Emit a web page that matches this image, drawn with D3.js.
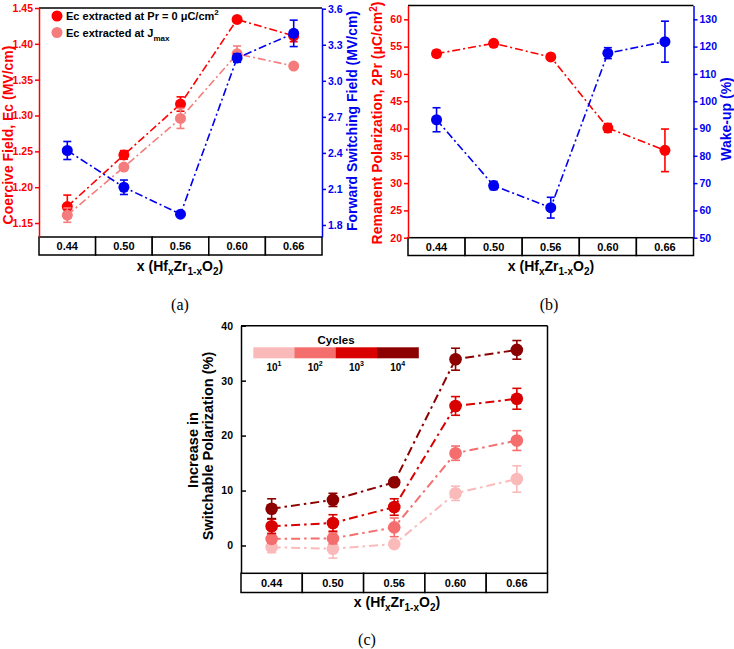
<!DOCTYPE html>
<html>
<head>
<meta charset="utf-8">
<script src="https://cdn.jsdelivr.net/npm/d3@7"></script>
<style>
  body { margin: 0; background: #fff; }
  svg text { font-family: "Liberation Sans", Arial, sans-serif; font-weight: bold; }
  svg text.caption { font-family: "Liberation Serif", "DejaVu Serif", serif; font-weight: normal; }
</style>
</head>
<body>
<svg id="fig" width="734" height="649"></svg>
<script>
// x categories shared by all three panels
const compositions = ["0.44", "0.50", "0.56", "0.60", "0.66"];

// (a) coercive field and forward switching field
const ecPr0 = [1.173, 1.245, 1.316, 1.434, 1.411];
const ecPr0Err = [0.016, 0.006, 0.010, 0, 0.008];
const ecJmax = [1.161, 1.228, 1.296, 1.386, 1.369];
const ecJmaxErr = [0.010, 0, 0.014, 0.011, 0];
const fwdField = [2.42, 2.114, 1.89, 3.19, 3.395];
const fwdFieldErr = [0.075, 0.06, 0.01, 0.036, 0.11];
const ecTicks = [1.15, 1.20, 1.25, 1.30, 1.35, 1.40, 1.45];
const fwdTicks = [1.8, 2.1, 2.4, 2.7, 3.0, 3.3, 3.6];

// (b) remanent polarization and wake-up
const pr2 = [53.7, 55.6, 53.1, 40.1, 36.0];
const pr2Err = [0.6, 0, 0, 0.8, 3.9];
const wakeUp = [93.2, 69.1, 61.0, 117.6, 121.8];
const wakeUpErr = [4.4, 1.5, 3.8, 2.0, 7.5];
const prTicks = [20, 25, 30, 35, 40, 45, 50, 55, 60];
const wakeTicks = [50, 60, 70, 80, 90, 100, 110, 120, 130];

// (c) increase in switchable polarization per cycle count
const cycleExp = ["1", "2", "3", "4"];
const inc1e1 = [-0.3, -0.6, 0.25, 9.5, 12.1];
const inc1e1Err = [1.0, 1.7, 0.5, 1.3, 2.4];
const inc1e2 = [1.2, 1.3, 3.3, 16.8, 19.1];
const inc1e2Err = [0.8, 1.0, 1.7, 1.3, 1.8];
const inc1e3 = [3.5, 4.1, 7.0, 25.4, 26.7];
const inc1e3Err = [1.3, 1.5, 1.5, 1.7, 1.9];
const inc1e4 = [6.7, 8.3, 11.5, 33.9, 35.6];
const inc1e4Err = [1.8, 1.2, 0, 2.0, 1.7];
const incTicks = [0, 10, 20, 30, 40];

const RED = "#ff0000", PINK = "#f47c7c", BLUE = "#0000f0";
const cycleColors = ["#fbbaba", "#f46e6e", "#d90000", "#8c0000"];

const svg = d3.select("#fig");

// writes text with sub/superscript parts: [[text, "sub"|"sup"|null], ...]
function rich(sel, parts, smallSize) {
  let shift = 0;
  parts.forEach(([t, kind]) => {
    const target = kind === "sub" ? 4 : kind === "sup" ? -5 : 0;
    sel.append("tspan")
      .attr("dy", target - shift)
      .attr("font-size", kind ? smallSize : null)
      .text(t);
    shift = target;
  });
}

const xTitleParts = [["x (Hf", null], ["x", "sub"], ["Zr", null], ["1-x", "sub"], ["O", null], ["2", "sub"], [")", null]];

// frame top line + table of compositions under the plot
function makePanel(o) {
  const x = d3.scaleBand().domain(compositions).range([o.x0, o.x1]);
  svg.append("line")
    .attr("x1", o.x0).attr("x2", o.x1).attr("y1", o.top).attr("y2", o.top)
    .attr("stroke", "#000").attr("stroke-width", 1.5);
  if (o.rightBlack) {
    svg.append("line")
      .attr("x1", o.x1).attr("x2", o.x1).attr("y1", o.top).attr("y2", o.bottom)
      .attr("stroke", "#000").attr("stroke-width", 1.5);
  }
  svg.append("g").selectAll("rect")
    .data(compositions)
    .join("rect")
    .attr("x", d => x(d))
    .attr("y", o.bottom)
    .attr("width", x.bandwidth())
    .attr("height", o.tableBottom - o.bottom)
    .attr("fill", "#fff")
    .attr("stroke", "#000")
    .attr("stroke-width", 1.5);
  svg.append("g").selectAll("text")
    .data(compositions)
    .join("text")
    .attr("x", d => x(d) + x.bandwidth() / 2)
    .attr("y", (o.bottom + o.tableBottom) / 2 + 4)
    .attr("text-anchor", "middle")
    .attr("font-size", 11)
    .text(d => d);
  const t = svg.append("text")
    .attr("x", o.titleX).attr("y", o.titleY)
    .attr("text-anchor", "middle")
    .attr("font-size", 14);
  rich(t, xTitleParts, 10);
  svg.append("text")
    .attr("class", "caption")
    .attr("x", o.capX).attr("y", o.capY)
    .attr("text-anchor", "middle")
    .attr("font-size", 16)
    .text(o.caption);
  return x;
}

function drawAxis(pos, scale, ticks, fmt, color, side, tick) {
  const ax = (side === "left" ? d3.axisLeft(scale) : d3.axisRight(scale))
    .tickValues(ticks)
    .tickFormat(d3.format(fmt))
    .tickSize(tick)
    .tickSizeOuter(0)
    .tickPadding(tick > 0 ? 2 : 8);
  const g = svg.append("g").attr("transform", `translate(${pos},0)`).call(ax);
  g.select(".domain").attr("stroke", color).attr("stroke-width", 1.5);
  g.selectAll(".tick line").attr("stroke", color).attr("stroke-width", 1.5);
  g.selectAll(".tick text").attr("fill", color).attr("font-size", 10.5)
    .style("font-family", '"Liberation Sans", Arial, sans-serif').style("font-weight", "bold");
  return g;
}

function yTitle(x, y, color, parts, size) {
  const t = svg.append("text")
    .attr("transform", `translate(${x},${y}) rotate(-90)`)
    .attr("text-anchor", "middle")
    .attr("fill", color)
    .attr("font-size", size);
  rich(t, parts, size - 4);
}

function drawSeries(x, y, vals, errs, color, opts) {
  const pts = compositions.map((c, i) => ({ c: c, v: vals[i], e: errs[i] }));
  const cx = d => x(d.c) + x.bandwidth() / 2;
  const g = svg.append("g");
  g.append("path")
    .datum(pts)
    .attr("fill", "none")
    .attr("stroke", color)
    .attr("stroke-width", opts.lw)
    .attr("stroke-dasharray", opts.dash)
    .attr("d", d3.line().x(cx).y(d => y(d.v)));
  const eb = g.selectAll("g.err").data(pts.filter(d => d.e > 0)).join("g").attr("class", "err")
    .attr("stroke", color).attr("stroke-width", 1.6);
  eb.append("line").attr("x1", cx).attr("x2", cx).attr("y1", d => y(d.v - d.e)).attr("y2", d => y(d.v + d.e));
  eb.append("line").attr("x1", d => cx(d) - opts.cap).attr("x2", d => cx(d) + opts.cap)
    .attr("y1", d => y(d.v + d.e)).attr("y2", d => y(d.v + d.e));
  eb.append("line").attr("x1", d => cx(d) - opts.cap).attr("x2", d => cx(d) + opts.cap)
    .attr("y1", d => y(d.v - d.e)).attr("y2", d => y(d.v - d.e));
  g.selectAll("circle").data(pts).join("circle")
    .attr("cx", cx).attr("cy", d => y(d.v)).attr("r", opts.r)
    .attr("fill", color);
}

// ---------- (a) ----------
const pa = { x0: 39, x1: 322, top: 8, bottom: 237, tableBottom: 255,
  titleX: 180, titleY: 271, capX: 180, capY: 310, caption: "(a)" };
const yEc = d3.scaleLinear().domain([1.1305, 1.45]).range([pa.bottom, pa.top]);
const yFwd = d3.scaleLinear().domain([1.70, 3.606]).range([pa.bottom, pa.top]);
const xa = makePanel(pa);
drawAxis(pa.x0, yEc, ecTicks, ".2f", RED, "left", 4);
drawAxis(pa.x1, yFwd, fwdTicks, ".1f", BLUE, "right", 4);
yTitle(12.5, 135, RED, [["Coercive Field, Ec (MV/cm)", null]], 14);
yTitle(357, 121, BLUE, [["Forward Switching Field (MV/cm)", null]], 14);
const lineA = { lw: 1.6, dash: "8,3,2,3", cap: 4, r: 5.5 };
drawSeries(xa, yEc, ecPr0, ecPr0Err, RED, lineA);
drawSeries(xa, yEc, ecJmax, ecJmaxErr, PINK, lineA);
drawSeries(xa, yFwd, fwdField, fwdFieldErr, BLUE, lineA);

// legend (a)
const legA = svg.append("g").attr("font-size", 11);
legA.append("circle").attr("cx", 57).attr("cy", 16).attr("r", 5.5).attr("fill", RED);
legA.append("circle").attr("cx", 57).attr("cy", 32.5).attr("r", 5.5).attr("fill", PINK);
rich(legA.append("text").attr("x", 66).attr("y", 20),
  [["Ec extracted at Pr = 0 \u03bcC/cm", null], ["2", "sup"]], 8);
rich(legA.append("text").attr("x", 66).attr("y", 36.5),
  [["Ec extracted at J", null], ["max", "sub"]], 8);

// ---------- (b) ----------
const pb = { x0: 408, x1: 693.5, top: 5.5, bottom: 237.7, tableBottom: 255.5,
  titleX: 551, titleY: 271, capX: 549, capY: 310, caption: "(b)" };
const yPr = d3.scaleLinear().domain([20, 62.53]).range([pb.bottom, pb.top]);
const yWake = d3.scaleLinear().domain([50, 135.05]).range([pb.bottom, pb.top]);
const xb = makePanel(pb);
drawAxis(pb.x0, yPr, prTicks, "d", RED, "left", 4);
drawAxis(pb.x1, yWake, wakeTicks, "d", BLUE, "right", 4);
yTitle(382, 123, RED, [["Remanent Polarization, 2Pr (\u03bcC/cm", null], ["2", "sup"], [")", null]], 14);
yTitle(731, 119, BLUE, [["Wake-up (%)", null]], 14);
drawSeries(xb, yPr, pr2, pr2Err, RED, lineA);
drawSeries(xb, yWake, wakeUp, wakeUpErr, BLUE, lineA);

// ---------- (c) ----------
const pc = { x0: 241, x1: 547.5, top: 325.7, bottom: 573.3, tableBottom: 592.5, rightBlack: true,
  titleX: 397, titleY: 607, capX: 367, capY: 645, caption: "(c)" };
const yInc = d3.scaleLinear().domain([-5.06, 40]).range([pc.bottom, pc.top]);
const xc = makePanel(pc);
drawAxis(pc.x0, yInc, incTicks, "d", "#000", "left", -5);
yTitle(197.5, 450, "#000", [["Increase in", null]], 14.5);
yTitle(213, 446, "#000", [["Switchable Polarization (%)", null]], 14.5);
const lineC = { lw: 2, dash: "9,4,2.5,4", cap: 4.5, r: 6.3 };
const cycleSeries = [[inc1e1, inc1e1Err], [inc1e2, inc1e2Err], [inc1e3, inc1e3Err], [inc1e4, inc1e4Err]];
cycleSeries.forEach(([v, e], i) => drawSeries(xc, yInc, v, e, cycleColors[i], lineC));

// colour bar legend (c)
const cbX = d3.scaleBand().domain(cycleExp).range([253.3, 418.3]);
const legC = svg.append("g");
legC.append("text").attr("x", 336).attr("y", 343.5).attr("text-anchor", "middle")
  .attr("font-size", 11.5).text("Cycles");
legC.selectAll("rect").data(cycleExp).join("rect")
  .attr("x", d => cbX(d)).attr("y", 347.3)
  .attr("width", cbX.bandwidth() + 0.5).attr("height", 11)
  .attr("fill", (d, i) => cycleColors[i]);
legC.selectAll("text.lab").data(cycleExp).join("text")
  .attr("class", "lab")
  .attr("x", d => cbX(d) + cbX.bandwidth() / 2)
  .attr("y", 371)
  .attr("text-anchor", "middle")
  .attr("font-size", 10)
  .each(function (d) { rich(d3.select(this), [["10", null], [d, "sup"]], 7); });
</script>
</body>
</html>
